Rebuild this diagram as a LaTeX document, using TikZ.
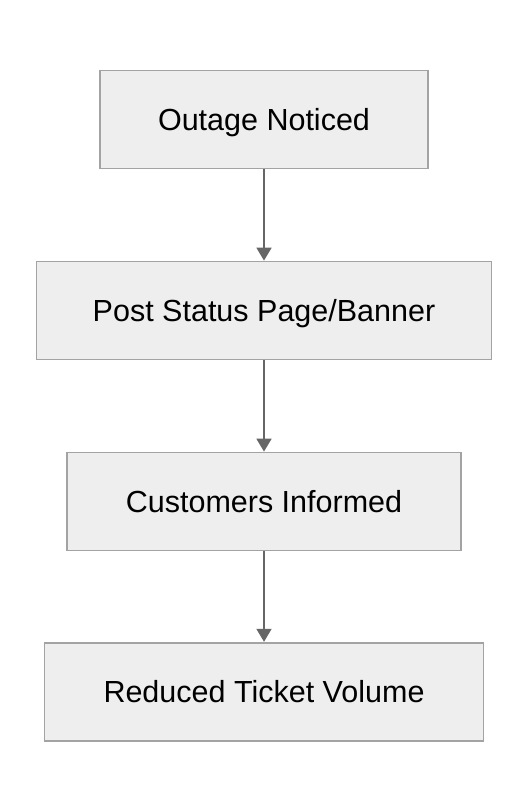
\documentclass[tikz,border=0pt]{standalone}
\usepackage{fontspec}
\setmainfont{Liberation Sans}
\usetikzlibrary{arrows.meta}
\definecolor{boxfill}{HTML}{EEEEEE}
\definecolor{boxline}{HTML}{A3A3A3}
\definecolor{arrowline}{HTML}{666666}

\begin{document}
\begin{tikzpicture}[x=1bp,y=-1bp,
	flowbox/.style={draw=boxline, line width=1.8bp, fill=boxfill, minimum height=98bp,
		inner sep=0pt, text height=21.5bp, text depth=0pt,
		font=\fontsize{30.5bp}{36bp}\selectfont},
	flowarrow/.style={draw=arrowline, line width=1.8bp, -{Triangle[width=15bp,length=13bp]}}]
	\useasboundingbox (0,0) rectangle (528,812);
	\node[flowbox, minimum width=328bp] (noticed) at (264,119.5) {Outage Noticed};
	\node[flowbox, minimum width=455bp] (status) at (264,310.5) {Post Status Page/Banner};
	\node[flowbox, minimum width=394bp] (informed) at (264,501.5) {Customers Informed};
	\node[flowbox, minimum width=439bp] (reduced) at (264,691.7) {Reduced Ticket Volume};
	\draw[flowarrow] (noticed) -- (status);
	\draw[flowarrow] (status) -- (informed);
	\draw[flowarrow] (informed) -- (reduced);
\end{tikzpicture}
\end{document}
